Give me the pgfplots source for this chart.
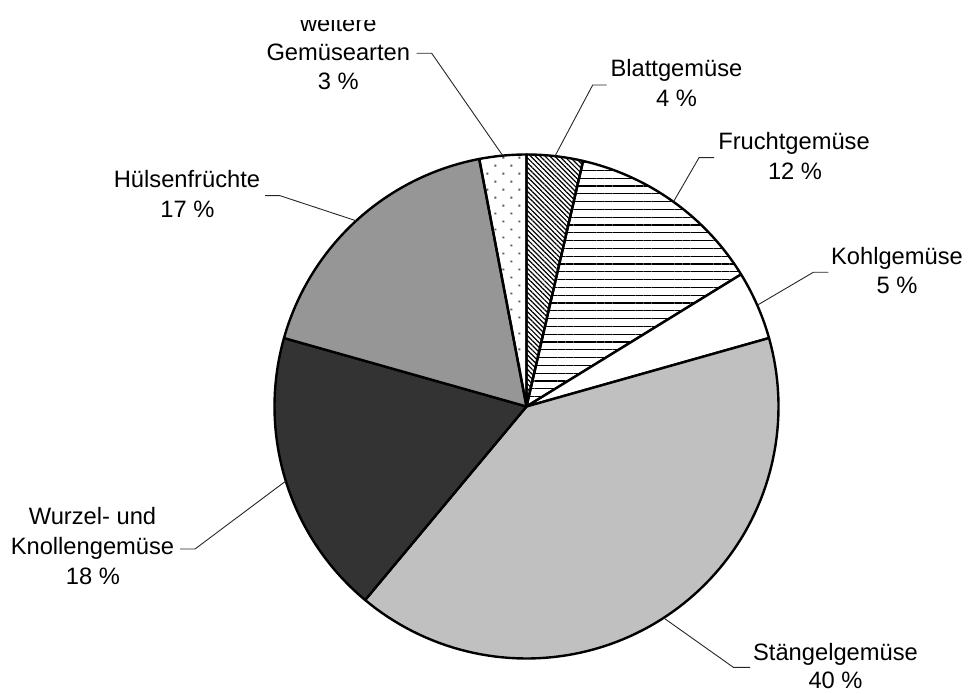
\documentclass[border=0pt]{standalone}
\usepackage{pgfplots}
\pgfplotsset{compat=1.18}
\usetikzlibrary{patterns.meta}
\usepackage{fontspec}
\setmainfont{Liberation Sans}

% ---- data (percent shares, clockwise from 12 o'clock) ----
\def\vBlatt{3.6}
\def\vFrucht{12.6}
\def\vKohl{4.4}
\def\vStaengel{40.4}
\def\vWurzel{18.3}
\def\vHuelsen{17.6}
\def\vWeitere{3.0}

% ---- geometry (1 unit = 1 px of the reference) ----
\def\cx{526.5}\def\cy{286.5}\def\R{252}

\pgfmathsetmacro\tot{\vBlatt+\vFrucht+\vKohl+\vStaengel+\vWurzel+\vHuelsen+\vWeitere}
\pgfmathsetmacro\aA{90}
\pgfmathsetmacro\aB{\aA-360*\vBlatt/\tot}
\pgfmathsetmacro\aC{\aB-360*\vFrucht/\tot}
\pgfmathsetmacro\aD{\aC-360*\vKohl/\tot}
\pgfmathsetmacro\aE{\aD-360*\vStaengel/\tot}
\pgfmathsetmacro\aF{\aE-360*\vWurzel/\tot}
\pgfmathsetmacro\aG{\aF-360*\vHuelsen/\tot}
\pgfmathsetmacro\aH{\aG-360*\vWeitere/\tot}

\newcommand\slice[3]{%
  \addplot[#3, draw=black, line width=2.4pt, line join=round,
    domain=#2:#1, samples=90, variable=\t]
    ({\cx+\R*cos(\t)},{\cy+\R*sin(\t)}) -- (axis cs:\cx,\cy) -- cycle;}

\newcommand\leader[4]{% text end x, y(px from top), knee x, angle
  \draw[black!85, line width=0.9pt]
    (axis cs:#1,{693-#2}) -- (axis cs:#3,{693-#2})
    -- (axis cs:{\cx+\R*cos(#4)},{\cy+\R*sin(#4)});}

\newcommand\lbl[3]{% center x, baseline (px from top), text
  \node[anchor=base, inner sep=0pt,
    font=\fontsize{23.7pt}{29.5pt}\selectfont] at (axis cs:#1,{693-#2}) {#3};}

\begin{document}
\begin{tikzpicture}
\begin{axis}[
  x=1pt, y=1pt,
  xmin=0, xmax=968, ymin=0, ymax=693,
  hide axis, clip=false,
]
\path (axis cs:0,0) coordinate (bl) (axis cs:968,693) coordinate (tr)
      (axis cs:0,672.5) coordinate (cl);

\slice{\aA}{\aB}{pattern={Lines[angle=-45,distance=3.4pt,line width=1.2pt]}}
\slice{\aB}{\aC}{pattern={Lines[angle=0,distance=7.8pt,line width=1.3pt]}}
\slice{\aC}{\aD}{fill=white}
\slice{\aD}{\aE}{fill={rgb,255:red,192;green,192;blue,192}}
\slice{\aE}{\aF}{fill={rgb,255:red,51;green,51;blue,51}}
\slice{\aF}{\aG}{fill={rgb,255:red,150;green,150;blue,150}}
\slice{\aG}{\aH}{pattern={Dots[angle=45,distance=11.3pt,radius=1.3pt]}, pattern color=black!65}

\pgfmathsetmacro\mA{(\aA+\aB)/2}
\pgfmathsetmacro\mB{(\aB+\aC)/2}
\pgfmathsetmacro\mC{(\aC+\aD)/2}
\pgfmathsetmacro\mD{(\aD+\aE)/2}
\pgfmathsetmacro\mE{(\aE+\aF)/2}
\pgfmathsetmacro\mF{(\aF+\aG)/2}
\pgfmathsetmacro\mG{(\aG+\aH)/2}

\leader{606.7}{85}{592.7}{\mA}
\leader{714}{157.7}{699}{\mB}
\leader{828.3}{272.3}{813.3}{\mC}
\leader{750}{667.3}{733.3}{\mD}
\leader{180}{549}{195}{\mE}
\leader{265}{195.7}{280}{\mF}
\leader{416.7}{53.3}{431.7}{\mG}

\lbl{676.5}{77}{Blattgemüse}
\lbl{676.5}{107}{4 \%}
\lbl{794}{150}{Fruchtgemüse}
\lbl{795}{180}{12 \%}
\lbl{897}{265}{Kohlgemüse}
\lbl{897}{294}{5 \%}
\lbl{835.5}{660}{Stängelgemüse}
\lbl{835.5}{688.5}{40 \%}
\lbl{92.5}{525}{Wurzel- und}
\lbl{92.5}{555}{Knollengemüse}
\lbl{93}{585}{18 \%}
\lbl{187}{187.3}{Hülsenfrüchte}
\lbl{187.5}{217.3}{17 \%}
\lbl{338.3}{31.7}{weitere}
\lbl{338.3}{61}{Gemüsearten}
\lbl{338.3}{90}{3 \%}
\end{axis}
\fill[white] (cl) rectangle (tr);
\pgfresetboundingbox
\useasboundingbox (bl) rectangle (tr);
\end{tikzpicture}
\end{document}
